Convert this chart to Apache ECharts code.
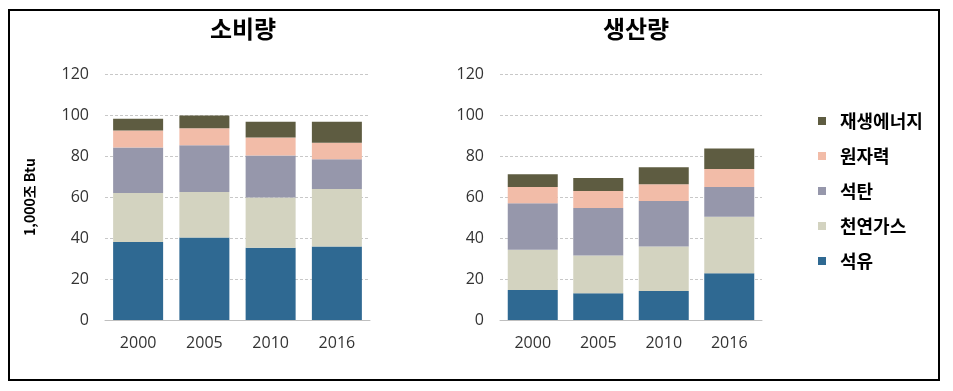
<!DOCTYPE html>
<html><head><meta charset="utf-8">
<script src="https://cdn.jsdelivr.net/npm/echarts@6/dist/echarts.min.js"></script>
<style>
html,body{margin:0;padding:0;background:#fff;}
#frame{position:absolute;left:8px;top:9px;width:928px;height:368px;border:2px solid #000;box-sizing:content-box;}
#chart{position:absolute;left:0;top:0;width:953px;height:391px;}
</style>
</head><body>
<div id="frame"></div>
<div id="chart"></div>
<script>
const years = ['2000', '2005', '2010', '2016'];
const seriesNames = ['석유', '천연가스', '석탄', '원자력', '재생에너지'];
// 소비량 (consumption)
const consOil = [38.0, 40.2, 35.3, 35.8];
const consGas = [24.0, 22.2, 24.5, 28.1];
const consCoal = [22.2, 22.8, 20.4, 14.5];
const consNuclear = [8.3, 8.3, 8.8, 8.1];
const consRenew = [5.7, 6.2, 7.7, 10.2];
// 생산량 (production)
const prodOil = [14.6, 13.0, 14.1, 22.8];
const prodGas = [19.7, 18.5, 21.7, 27.6];
const prodCoal = [22.6, 23.1, 22.2, 14.5];
const prodNuclear = [8.0, 8.3, 8.2, 8.8];
const prodRenew = [6.2, 6.4, 8.3, 10.0];
const yTicks = [0, 20, 40, 60, 80, 100, 120];

const colors = ['#2f6992', '#d3d3c0', '#9697ab', '#f2bca8', '#5e5c41'];
const consData = [consOil, consGas, consCoal, consNuclear, consRenew];
const prodData = [prodOil, prodGas, prodCoal, prodNuclear, prodRenew];

const numFont = 'Open Sans';
const korFont = '"Noto Sans CJK KR"';

function xAxis(idx) {
  return {
    type: 'category', gridIndex: idx, data: years,
    axisLine: {lineStyle: {color: '#bfbfbf', width: 1}},
    axisTick: {show: false},
    axisLabel: {fontFamily: numFont, fontSize: 16, color: '#333', margin: 15}
  };
}
function yAxis(idx, withName) {
  const a = {
    type: 'value', gridIndex: idx, min: yTicks[0], max: yTicks[yTicks.length - 1], interval: 20,
    axisLine: {show: false}, axisTick: {show: false},
    axisLabel: {fontFamily: numFont, fontSize: 16, color: '#333', margin: 16},
    splitLine: {lineStyle: {color: '#c8c8c8', type: [3, 2], width: 1}}
  };
  if (withName) {
    a.name = '1,000조 Btu';
    a.nameLocation = 'middle';
    a.nameRotate = 90;
    a.nameGap = 68;
    a.nameTextStyle = {fontFamily: korFont, fontSize: 14, fontWeight: 'bold', color: '#000'};
  }
  return a;
}

const series = [];
seriesNames.forEach((n, i) => {
  series.push({name: n, type: 'bar', stack: 'c', xAxisIndex: 0, yAxisIndex: 0,
    data: consData[i], barWidth: 50, itemStyle: {color: colors[i]}});
});
seriesNames.forEach((n, i) => {
  series.push({name: n, type: 'bar', stack: 'p', xAxisIndex: 1, yAxisIndex: 1,
    data: prodData[i], barWidth: 50, itemStyle: {color: colors[i]}});
});

const chart = echarts.init(document.getElementById('chart'), null, {renderer: 'canvas'});
chart.setOption({
  animation: false,
  backgroundColor: 'transparent',
  title: [
    {text: '소비량', left: 238, top: 12, textAlign: 'center',
      textStyle: {fontFamily: korFont, fontSize: 24, fontWeight: 'bold', color: '#000'}},
    {text: '생산량', left: 631, top: 12, textAlign: 'center',
      textStyle: {fontFamily: korFont, fontSize: 24, fontWeight: 'bold', color: '#000'}}
  ],
  legend: {
    orient: 'vertical', left: 813, top: 106,
    data: seriesNames.slice().reverse(),
    itemWidth: 8, itemHeight: 8, itemGap: 15, icon: 'rect',
    textStyle: {fontFamily: korFont, fontSize: 18, fontWeight: 'bold', color: '#000', lineHeight: 20, padding: [0, 0, 0, 9]}
  },
  grid: [
    {left: 105, top: 74, width: 265, height: 246},
    {left: 500, top: 74, width: 262, height: 246}
  ],
  xAxis: [xAxis(0), xAxis(1)],
  yAxis: [yAxis(0, true), yAxis(1, false)],
  series: series
});
</script>
</body></html>
